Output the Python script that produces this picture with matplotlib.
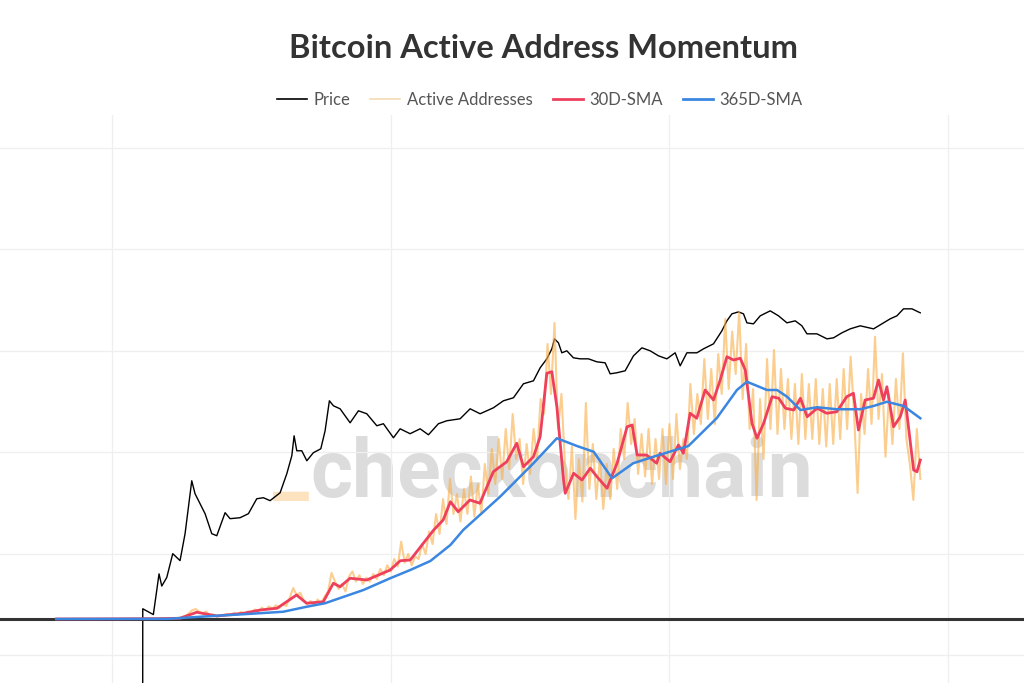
import numpy as np
import matplotlib
matplotlib.use("Agg")
import matplotlib.pyplot as plt

# ---- data ----
price_year = [2010.55, 2010.551, 2010.741, 2010.802, 2010.843, 2010.892, 2010.982, 2011.089,
              2011.220, 2011.310, 2011.369, 2011.430, 2011.489, 2011.579, 2011.669, 2011.789,
              2011.879, 2012.028, 2012.117, 2012.297, 2012.446, 2012.596, 2012.715, 2012.835,
              2013.015, 2013.135, 2013.225, 2013.266, 2013.314, 2013.404, 2013.494, 2013.612,
              2013.745, 2013.822, 2013.899, 2013.971, 2014.091, 2014.271, 2014.420, 2014.570,
              2014.750, 2014.868, 2015.048, 2015.168, 2015.347, 2015.527, 2015.676, 2015.855,
              2016.006, 2016.244, 2016.424, 2016.603, 2016.842, 2017.021, 2017.201, 2017.380,
              2017.560, 2017.680, 2017.800, 2017.890, 2017.937, 2018.008, 2018.069, 2018.159,
              2018.277, 2018.398, 2018.547, 2018.697, 2018.846, 2018.936, 2019.056, 2019.205,
              2019.354, 2019.505, 2019.654, 2019.803, 2019.953, 2020.102, 2020.192, 2020.312,
              2020.492, 2020.610, 2020.790, 2020.940, 2021.030, 2021.120, 2021.238, 2021.328,
              2021.389, 2021.507, 2021.628, 2021.807, 2021.956, 2022.107, 2022.256, 2022.376,
              2022.466, 2022.645, 2022.825, 2022.943, 2023.093, 2023.242, 2023.422, 2023.661,
              2023.811, 2023.960, 2024.080, 2024.199, 2024.350, 2024.499]
price_usd = [0.001, 0.082, 0.063, 0.19, 0.40, 0.23, 0.34, 1.0,
             0.73, 2.48, 8.06, 27.4, 15.2, 9.67, 6.14, 2.48,
             2.26, 6.43, 4.9, 5.12, 6.14, 12.1, 12.7, 11.1,
             15.9, 37.7, 85.3, 211, 107, 107, 68, 98,
             117, 265, 1035, 825, 719, 381, 657, 574,
             333, 365, 193, 290, 232, 290, 221, 365,
             418, 457, 719, 574, 753, 1035, 1186, 2239,
             2564, 4624, 6950, 10940, 17220, 14380, 9140, 10000,
             7280, 6950, 6950, 6070, 5800, 3520, 3690, 4040,
             7960, 11460, 10000, 7960, 6950, 9140, 5060, 9140,
             9140, 10940, 13740, 24780, 39000, 53580, 58610, 53580,
             35640, 34040, 48980, 61380, 48980, 35640, 39000, 31110,
             21630, 21630, 17220, 18030, 22640, 27100, 31110, 27100,
             34040, 42750, 48980, 67300, 67300, 56100]

# active addresses, thousands; raw series sampled every 0.0625 yr from mid-2010
raw_start, raw_step = 2010.5, 0.0625
raw_k = [0.2, 0.5, 0.3, 0.8, 0.6, 1.2, 0.9, 1.5,
         2, 1.5, 4, 3, 8, 12, 22, 35,
         40, 28, 22, 30, 15, 18, 10, 14,
         16, 20, 14, 25, 18, 28, 22, 30,
         26, 38, 30, 45, 35, 50, 40, 55,
         45, 60, 52, 85, 124, 95, 105, 75,
         60, 72, 55, 78, 62, 90, 110, 184,
         150, 120, 140, 110, 170, 190, 150, 175,
         140, 165, 150, 180, 160, 200, 175, 215,
         190, 240, 210, 309, 225, 260, 215, 250,
         240, 300, 260, 350, 300, 420, 340, 480,
         380, 560, 420, 500, 390, 520, 420, 570,
         410, 540, 420, 620, 500, 680, 540, 720,
         560, 760, 600, 820, 640, 720, 540, 700,
         580, 760, 640, 880, 820, 1100, 900, 1184,
         760, 900, 620, 480, 690, 400, 640, 470,
         864, 520, 700, 480, 640, 440, 620, 480,
         680, 520, 760, 640, 864, 700, 800, 580,
         740, 570, 760, 540, 720, 560, 760, 540,
         780, 560, 820, 600, 720, 640, 940, 740,
         900, 780, 1040, 800, 1000, 780, 1060, 900,
         1200, 920, 1150, 980, 1229, 880, 1100, 760,
         920, 476, 880, 640, 1040, 760, 1076, 740,
         1000, 760, 960, 720, 940, 700, 980, 720,
         940, 720, 960, 700, 920, 690, 940, 700,
         960, 720, 1000, 760, 1049, 820, 504, 900,
         740, 1000, 780, 1129, 800, 980, 649, 900,
         700, 960, 760, 1063, 720, 620, 476, 760,
         560]

sma30_year = [2009.0, 2010.0, 2010.9, 2011.22, 2011.52, 2011.88, 2012.36, 2012.66, 2012.96,
              2013.31, 2013.49, 2013.79, 2013.97, 2014.09, 2014.27, 2014.57, 2014.99, 2015.17,
              2015.35, 2015.77, 2015.94, 2016.07, 2016.21, 2016.42, 2016.60, 2016.84, 2017.08,
              2017.26, 2017.38, 2017.56, 2017.68, 2017.80, 2017.89, 2017.98, 2018.10, 2018.13,
              2018.28, 2018.43, 2018.58, 2018.70, 2018.88, 2019.06, 2019.24, 2019.33, 2019.42,
              2019.59, 2019.77, 2019.83, 2020.01, 2020.16, 2020.25, 2020.37, 2020.49, 2020.64,
              2020.79, 2020.91, 2021.03, 2021.15, 2021.27, 2021.36, 2021.48, 2021.57, 2021.69,
              2021.84, 2021.96, 2022.08, 2022.23, 2022.35, 2022.47, 2022.65, 2022.82, 2023.00,
              2023.18, 2023.30, 2023.39, 2023.51, 2023.66, 2023.75, 2023.84, 2023.90, 2024.02,
              2024.14, 2024.23, 2024.38, 2024.44, 2024.50]
sma30_k = [0, 0.5, 1.5, 3, 27, 12, 23, 36, 43,
           96, 63, 69, 143, 129, 163, 156, 196, 233,
           236, 356, 396, 469, 429, 476, 463, 589, 629,
           703, 609, 649, 729, 983, 989, 849, 556, 503,
           583, 556, 603, 569, 523, 623, 769, 776, 656,
           656, 623, 663, 629, 696, 663, 823, 803, 916,
           876, 956, 1049, 1036, 1043, 996, 783, 723, 783,
           889, 883, 843, 836, 883, 809, 843, 823, 829,
           889, 903, 756, 876, 883, 956, 876, 929, 769,
           809, 876, 596, 589, 636]

sma365_year = [2009.01, 2011.0, 2011.58, 2012.35, 2013.07, 2013.49, 2013.82, 2014.51, 2014.99,
               2015.35, 2015.71, 2016.07, 2016.30, 2016.96, 2017.56, 2017.98, 2018.34, 2018.64,
               2018.97, 2019.35, 2019.71, 2020.34, 2020.85, 2021.21, 2021.39, 2021.75, 2021.93,
               2022.11, 2022.35, 2022.65, 2023.00, 2023.42, 2023.66, 2023.90, 2024.20, 2024.50]
sma365_k = [0, 0.5, 9, 19, 29, 49, 63, 116, 163,
            196, 232, 296, 356, 489, 623, 723, 692, 669,
            563, 623, 649, 692, 804, 916, 949, 916, 916,
            889, 836, 847, 839, 839, 852, 869, 852, 803]

year_grid = [2010, 2015, 2020, 2025]
price_grid = [1e-2, 1, 1e2, 1e4, 1e6, 1e8]

# ---- style ----
INK = "#333333"
LEGEND_INK = "#555555"
GRID = "#efefef"
ORANGE = "#f9ad45"
ORANGE_LEGEND = "#f3dcb4"
RED = "#ee3f5c"
BLUE = "#3a86e0"
WATERMARK = "#d6d6d6"

plt.rcParams["font.family"] = ["Lato", "DejaVu Sans"]

fig = plt.figure(figsize=(10.24, 6.83), dpi=100)
fig.set_facecolor("white")
ax = fig.add_axes([0, 0, 1, (683 - 115) / 683])
ax2 = ax.twinx()

# price on a log scale
ax.set_yscale("log")
ax.set_xlim(2007.99, 2026.36)
ax.set_ylim(10 ** -2.55, 10 ** 8.65)
ax.set_xticks(year_grid)
ax.set_yticks(price_grid)
ax.minorticks_off()
ax.grid(True, color=GRID, linewidth=0.9)
ax.set_axisbelow(True)
ax.plot(price_year, price_usd, color="black", linewidth=1.0, zorder=3)

# active addresses on a linear secondary scale
ax2.set_ylim(-256, 2016)
ax2.axhline(0, color=INK, linewidth=2.2, zorder=1)
raw_year = raw_start + raw_step * np.arange(len(raw_k))
ax2.plot(raw_year, raw_k, color=ORANGE, linewidth=1.5, alpha=0.6, zorder=2)
ax2.plot(sma30_year, sma30_k, color=RED, linewidth=2.0, zorder=3)
ax2.plot(sma365_year, sma365_k, color=BLUE, linewidth=1.8, zorder=4)

for a in (ax, ax2):
    for s in a.spines.values():
        s.set_visible(False)
    a.tick_params(left=False, right=False, bottom=False, top=False,
                  labelleft=False, labelright=False, labelbottom=False)

# watermark sits beneath the data
fig.text(310 / 1024, 1 - 497 / 683, "checkonchain", fontsize=58, fontweight="bold",
         family="Roboto", color=WATERMARK, alpha=0.85, ha="left", va="baseline", zorder=-1)
fig.text(309 / 1024, 1 - 492 / 683, "_", fontsize=58, fontweight="bold",
         family="Roboto", color=ORANGE, alpha=0.35, ha="right", va="baseline", zorder=-1)
ax.patch.set_visible(False)
ax2.patch.set_visible(False)

fig.text(0.531, 1 - 49 / 683, "Bitcoin Active Address Momentum", fontsize=23.5,
         fontweight="bold", color=INK, ha="center", va="center")

handles = [plt.Line2D([], [], color="black", linewidth=1.2),
           plt.Line2D([], [], color=ORANGE_LEGEND, linewidth=1.2),
           plt.Line2D([], [], color=RED, linewidth=2),
           plt.Line2D([], [], color=BLUE, linewidth=2)]
fig.legend(handles, ["Price", "Active Addresses", "30D-SMA", "365D-SMA"],
           loc="center", bbox_to_anchor=(0.527, 1 - 100 / 683), ncol=4, frameon=False,
           fontsize=12, labelcolor=LEGEND_INK, handlelength=1.8, handletextpad=0.4,
           columnspacing=1.2)

fig.savefig("out.png", dpi=100, facecolor="white")
